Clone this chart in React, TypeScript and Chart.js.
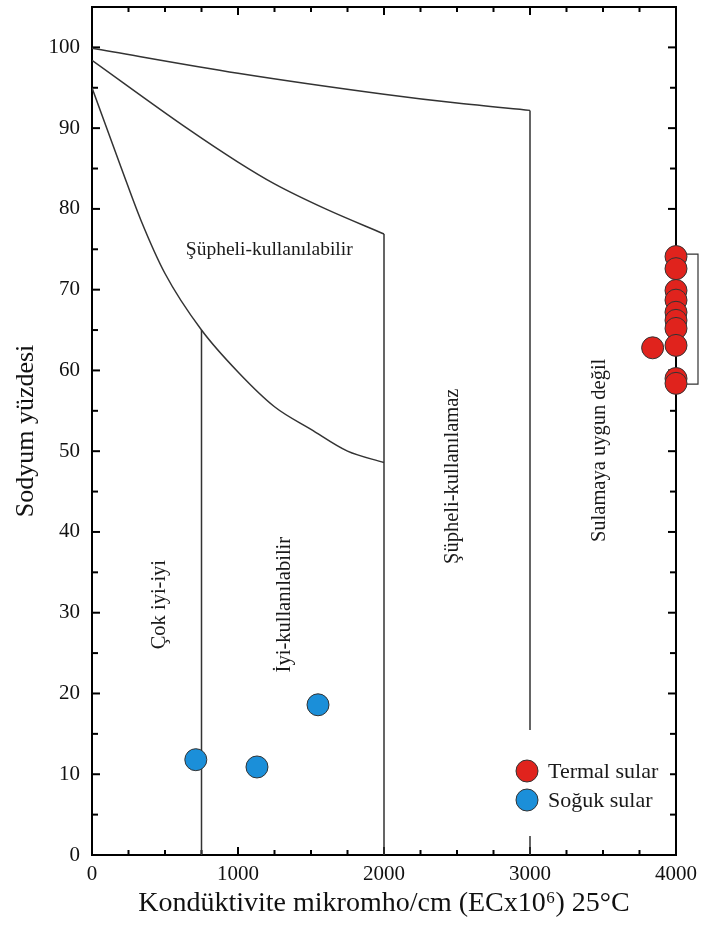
import React, { useEffect, useRef } from "react";
import { Chart, registerables } from "chart.js";

Chart.register(...registerables);

// ---- axis ticks ----
const xMajorTicks = [0, 1000, 2000, 3000, 4000];
const xMinorTicks = [250, 500, 750, 1250, 1500, 1750, 2250, 2500, 2750, 3250, 3500, 3750];
const yMajorTicks = [0, 10, 20, 30, 40, 50, 60, 70, 80, 90, 100];
const yMinorTicks = [5, 15, 25, 35, 45, 55, 65, 75, 85, 95];

// ---- Wilcox class boundary curves ----
const topCurveX = [0, 1000, 2000, 2500, 3000];
const topCurveY = [99.9, 96.8, 94.2, 93.1, 92.2];
const midCurveX = [0, 650, 1000, 1250, 1600, 2000];
const midCurveY = [98.4, 90.0, 85.8, 83.1, 80.0, 76.9];
const lowCurveX = [0, 200, 335, 500, 750, 1000, 1250, 1500, 1750, 2000];
const lowCurveY = [95.0, 85.1, 78.6, 72.0, 65.0, 59.8, 55.5, 52.7, 50.0, 48.6];

// vertical boundaries (x, top value), each drops to 0
const boundaryX = [750, 2000, 3000];
const boundaryTop = [65.0, 76.9, 92.2];

// ---- samples ----
const termalX = [4000, 4000, 4000, 4000, 4000, 4000, 4000, 4000, 4000, 4000, 3840];
const termalY = [74.1, 72.6, 69.9, 68.7, 67.2, 66.2, 65.2, 63.1, 59.0, 58.4, 62.8];
const sogukX = [711, 1130, 1548];
const sogukY = [11.8, 10.9, 18.6];

const seriesNames = ["Termal sular", "Soğuk sular"];
const seriesColors = ["#e0231d", "#1b8fd9"];

// ---- region labels ----
const zoneLabels = ["Çok iyi-iyi", "İyi-kullanılabilir", "Şüpheli-kullanılamaz", "Sulamaya uygun değil"];
const zoneLabelX = [460, 1320, 2470, 3478];
const zoneLabelY = [31.0, 31.0, 46.9, 50.1];
const flatLabel = "Şüpheli-kullanılabilir";
const flatLabelX = 1214;
const flatLabelY = 74.9;

const bracketRange = [58.3, 74.4];

const xTitle = "Kondüktivite mikromho/cm (ECx10⁶) 25°C";
const yTitle = "Sodyum yüzdesi";

const FONT = "'Liberation Serif', 'Times New Roman', serif";
const LINE_COLOR = "#333333";

const zip = (xs: number[], ys: number[]) => xs.map((x, i) => ({ x, y: ys[i] }));

const overlayPlugin = {
  id: "overlay",
  beforeDatasetsDraw(chart: any) {
    const { ctx, chartArea: a, scales } = chart;
    const x = scales.x;
    const y = scales.y;
    ctx.save();
    ctx.strokeStyle = "#000";
    ctx.lineWidth = 2;
    ctx.strokeRect(a.left, a.top, a.right - a.left, a.bottom - a.top);
    const seg = (x1: number, y1: number, x2: number, y2: number) => {
      ctx.beginPath();
      ctx.moveTo(x1, y1);
      ctx.lineTo(x2, y2);
      ctx.stroke();
    };
    const xt = (vals: number[], len: number) => {
      for (const v of vals) {
        const p = x.getPixelForValue(v);
        seg(p, a.bottom, p, a.bottom - len);
        seg(p, a.top, p, a.top + len);
      }
    };
    const yt = (vals: number[], len: number) => {
      for (const v of vals) {
        const p = y.getPixelForValue(v);
        seg(a.left, p, a.left + len, p);
        seg(a.right, p, a.right - len, p);
      }
    };
    xt(xMajorTicks, 8);
    xt(xMinorTicks, 5);
    yt(yMajorTicks, 8);
    yt(yMinorTicks, 6);
    ctx.restore();
  },
  afterDatasetsDraw(chart: any) {
    const { ctx, chartArea: a, scales } = chart;
    const x = scales.x;
    const y = scales.y;
    ctx.save();
    ctx.fillStyle = "#1a1a1a";
    ctx.textAlign = "center";
    ctx.textBaseline = "middle";
    ctx.font = `19.5px ${FONT}`;
    ctx.fillText(flatLabel, x.getPixelForValue(flatLabelX), y.getPixelForValue(flatLabelY));
    ctx.font = `20.5px ${FONT}`;
    zoneLabels.forEach((t, i) => {
      ctx.save();
      ctx.translate(x.getPixelForValue(zoneLabelX[i]), y.getPixelForValue(zoneLabelY[i]));
      ctx.rotate(-Math.PI / 2);
      ctx.fillText(t, 0, 0);
      ctx.restore();
    });

    // legend
    ctx.fillStyle = "#fff";
    ctx.fillRect(a.right - 172, a.bottom - 125, 166, 106);
    ctx.font = `22px ${FONT}`;
    ctx.textAlign = "left";
    seriesNames.forEach((name, i) => {
      const cy = a.bottom - 84 + i * 29;
      const cx = a.right - 149;
      ctx.beginPath();
      ctx.arc(cx, cy, 11, 0, Math.PI * 2);
      ctx.fillStyle = seriesColors[i];
      ctx.fill();
      ctx.lineWidth = 1;
      ctx.strokeStyle = "#333";
      ctx.stroke();
      ctx.fillStyle = "#1a1a1a";
      ctx.fillText(name, a.right - 128, cy + 1);
    });

    // bracket
    const bx = a.right + 22;
    const t1 = y.getPixelForValue(bracketRange[1]);
    const t0 = y.getPixelForValue(bracketRange[0]);
    ctx.strokeStyle = "#333";
    ctx.lineWidth = 1.2;
    ctx.beginPath();
    ctx.moveTo(a.right + 11, t1);
    ctx.lineTo(bx, t1);
    ctx.lineTo(bx, t0);
    ctx.lineTo(a.right + 11, t0);
    ctx.stroke();
    ctx.restore();
  },
};

export default function App() {
  const ref = useRef<HTMLCanvasElement | null>(null);

  useEffect(() => {
    if (!ref.current) return;
    const lineDs = (data: { x: number; y: number }[]) => ({
      data,
      showLine: true,
      borderColor: LINE_COLOR,
      borderWidth: 1.5,
      pointRadius: 0,
      cubicInterpolationMode: "monotone" as const,
      fill: false,
      order: 2,
    });
    const verticals = boundaryX.map((bx, i) =>
      Object.assign(lineDs([{ x: bx, y: boundaryTop[i] }, { x: bx, y: 0 }]), {
        cubicInterpolationMode: "default" as const,
        tension: 0,
      })
    );
    const pointDs = (xs: number[], ys: number[], color: string) => ({
      data: zip(xs, ys),
      showLine: false,
      pointRadius: 11,
      pointHoverRadius: 11,
      backgroundColor: color,
      borderColor: "#333",
      borderWidth: 1,
      clip: false as any,
      order: 1,
    });

    const chart = new Chart(ref.current, {
      type: "scatter",
      data: {
        datasets: [
          lineDs(zip(topCurveX, topCurveY)),
          lineDs(zip(midCurveX, midCurveY)),
          lineDs(zip(lowCurveX, lowCurveY)),
          ...verticals,
          pointDs(termalX, termalY, seriesColors[0]),
          pointDs(sogukX, sogukY, seriesColors[1]),
        ] as any,
      },
      options: {
        animation: false,
        responsive: false,
        devicePixelRatio: 1,
        layout: { autoPadding: false, padding: { left: 0, right: 25, top: 7, bottom: 0 } },
        plugins: { legend: { display: false }, tooltip: { enabled: false } },
        scales: {
          x: {
            type: "linear",
            min: 0,
            max: 4000,
            afterBuildTicks: (s: any) => {
              s.ticks = xMajorTicks.map((v) => ({ value: v }));
            },
            afterFit: (s: any) => {
              s.height = 71;
              s.paddingLeft = 0;
              s.paddingRight = 0;
            },
            grid: { display: false, drawTicks: false },
            border: { display: false },
            ticks: {
              font: { family: FONT, size: 21 },
              color: "#111",
              padding: 7,
              maxRotation: 0,
              callback: (v: any) => String(v),
            },
            title: {
              display: true,
              text: xTitle,
              font: { family: FONT, size: 28 },
              color: "#111",
              padding: { top: 0, bottom: 6 },
            },
          },
          y: {
            type: "linear",
            min: 0,
            max: 105,
            afterBuildTicks: (s: any) => {
              s.ticks = yMajorTicks.map((v) => ({ value: v }));
            },
            afterFit: (s: any) => {
              s.width = 92;
              s.paddingTop = 0;
              s.paddingBottom = 0;
            },
            grid: { display: false, drawTicks: false },
            border: { display: false },
            ticks: {
              font: { family: FONT, size: 21 },
              color: "#111",
              padding: 12,
              callback: (v: any) => String(v),
            },
            title: {
              display: true,
              text: yTitle,
              font: { family: FONT, size: 26 },
              color: "#111",
              padding: { top: 11, bottom: 0 },
            },
          },
        },
      },
      plugins: [overlayPlugin],
    });
    return () => chart.destroy();
  }, []);

  return (
    <div style={{ position: "absolute", left: 0, top: 0, width: 701, height: 926, background: "#fff" }}>
      <canvas ref={ref} width={701} height={926} />
    </div>
  );
}
